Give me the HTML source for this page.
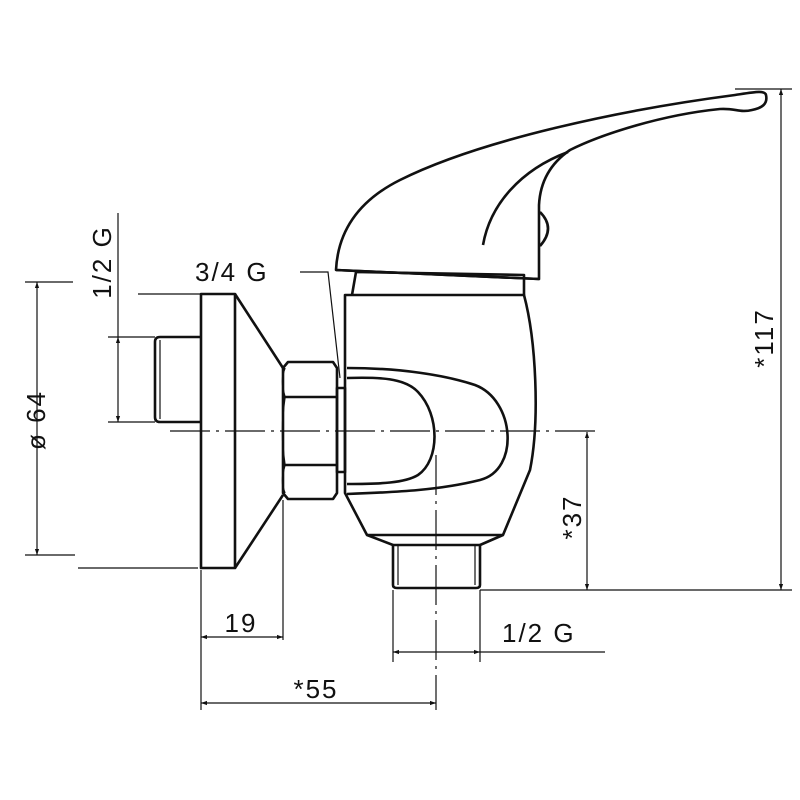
<!DOCTYPE html>
<html><head><meta charset="utf-8"><style>
html,body{margin:0;padding:0;background:#fff;}
svg{display:block;}
text{font-family:"Liberation Sans",sans-serif;fill:#111;letter-spacing:2px;}
</style></head><body>
<svg width="800" height="800" viewBox="0 0 800 800" xmlns="http://www.w3.org/2000/svg">
<defs>
<marker id="a" viewBox="0 0 10 10" refX="10" refY="5" markerWidth="14" markerHeight="6" markerUnits="userSpaceOnUse" orient="auto-start-reverse"><path d="M0,1.5 L10,5 L0,8.5 Z" fill="#111"/></marker>
</defs>
<g fill="none" stroke="#111" stroke-width="2.6" stroke-linejoin="round">
<rect x="201" y="294" width="34" height="274"/>
<path d="M235,294 L283,368 M235,568 L283,495"/>
<path d="M200,337 L160,337 Q155,337 155,342 L155,417 Q155,422 160,422 L200,422"/>
<path d="M160,340 L160,419" stroke-width="1.2"/>
<path d="M288,362 L333,362 L337,368 L337,493 L333,499 L288,499 L283,493 L283,368 Z"/>
<path d="M283,397 L337,397 M283,465 L337,465"/>
<path d="M285,368 Q280,380 285,397 M285,397 Q280,431 285,465 M285,465 Q280,482 285,493" stroke-width="1.5"/>
<rect x="337" y="388" width="8" height="84"/>
<path d="M336,270 C338,230 360,200 400,180 C480,140 620,110 735,95 C755,92 765,90 766,95 C768,104 762,108 752,110 C740,113 735,108 720,109 C660,115 600,135 570,150 C548,165 540,185 539,205 L539,279 Z"/>
<path d="M539,279 L336,270"/>
<path d="M568,152 C520,170 490,205 483,245"/>
<path d="M540,212 Q556,228 540,246"/>
<path d="M352,295 L356,272 L524,275 L524,295"/>
<path d="M345,295 L524,295 C536,340 540,420 530,470 L503,535 L367,535 L345,493 Z"/>
<path d="M347,368 C400,368 445,375 475,385 C515,400 520,470 480,480 C440,490 400,492 347,494"/>
<path d="M347,378 C380,377 405,378 418,392 C440,415 440,460 418,475 C405,483 380,484 347,484"/>
<path d="M393,545 L480,545 M393,545 L393,585 Q393,588 397,588 L476,588 Q480,588 480,585 L480,545"/>
<path d="M398,545 L398,585 M475,545 L475,585" stroke-width="1.2"/>
<path d="M367,535 L393,545 M503,535 L480,545"/>
</g>
<g fill="none" stroke="#111" stroke-width="1.2">
<path d="M170,431 L600,431" stroke-dasharray="40,6,3,6"/>
<path d="M436,455 L436,710" stroke-dasharray="40,6,3,6"/>
<path d="M300,272 L328,272 L340,378"/>
<path d="M118,213 L118,337"/>
<path d="M118,337 L118,422" marker-start="url(#a)" marker-end="url(#a)"/>
<path d="M108,337 L155,337 M108,422 L155,422 M138,294 L200,294"/>
<path d="M37,282 L37,555" marker-start="url(#a)" marker-end="url(#a)"/>
<path d="M25,282 L73,282 M25,555 L75,555 M78,568 L198,568"/>
<path d="M201,570 L201,710 M283,500 L283,640 M393,590 L393,662 M480,590 L480,662"/>
<path d="M201,637 L283,637" marker-start="url(#a)" marker-end="url(#a)"/>
<path d="M201,703 L436,703" marker-start="url(#a)" marker-end="url(#a)"/>
<path d="M393,652 L480,652" marker-start="url(#a)" marker-end="url(#a)"/>
<path d="M480,652 L605,652"/>
<path d="M480,590 L792,590 M735,89 L792,89"/>
<path d="M781,89 L781,590" marker-start="url(#a)" marker-end="url(#a)"/>
<path d="M587,432 L587,590" marker-start="url(#a)" marker-end="url(#a)"/>
</g>
<g font-size="26">
<text x="195" y="281">3/4  G</text>
<text x="241" y="632" text-anchor="middle">19</text>
<text x="316" y="698" text-anchor="middle">*55</text>
<text x="502" y="642">1/2  G</text>
<text transform="translate(111,262) rotate(-90)" text-anchor="middle">1/2  G</text>
<text transform="translate(45,420) rotate(-90)" text-anchor="middle">ø 64</text>
<text transform="translate(581,517) rotate(-90)" text-anchor="middle">*37</text>
<text transform="translate(773,338) rotate(-90)" text-anchor="middle">*117</text>
</g>
</svg>
</body></html>
